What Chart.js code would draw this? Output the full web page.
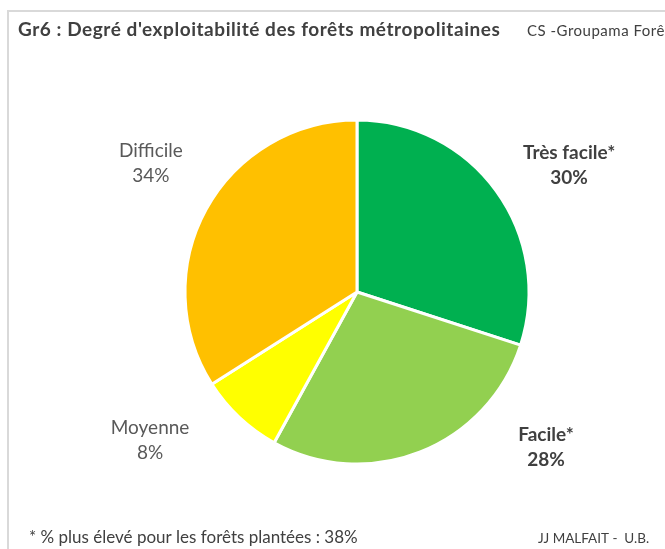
<!DOCTYPE html>
<html>
<head>
<meta charset="utf-8">
<script src="https://cdn.jsdelivr.net/npm/chart.js@4"></script>
<style>
  html, body { margin: 0; padding: 0; background: #ffffff; }
  #wrap { position: relative; width: 665px; height: 549px; overflow: hidden; }
  canvas { display: block; }
</style>
</head>
<body>
<div id="wrap"><canvas id="c" width="665" height="549"></canvas></div>
<script>
// ---- Data ----
const categories = ['Très facile*', 'Facile*', 'Moyenne', 'Difficile'];
const values = [30, 28, 8, 34];
const valueLabels = ['30%', '28%', '8%', '34%'];
const titleText = "Gr6 : Degré d'exploitabilité des forêts métropolitaines";
const sourceText = 'CS -Groupama Forêt';
const footnoteText = '* % plus élevé pour les forêts plantées : 38%';
const authorText = 'JJ MALFAIT -  U.B.';

// ---- Styles ----
const sliceColors = ['#00B050', '#92D050', '#FFFF00', '#FFC000'];
const FONT = 'Lato, "Liberation Sans", sans-serif';
// label offsets relative to pie centre, in units of the pie radius
const labelOffsets = [[1.233, -0.738], [1.099, 0.901], [-1.203, 0.860], [-1.198, -0.750]];
const labelBold = [true, true, false, false];

function drawText(ctx, text, x, y, font, spacing) {
  ctx.font = font;
  if ('letterSpacing' in ctx) ctx.letterSpacing = (spacing || 0) + 'px';
  ctx.fillText(text, x, y);
  if ('letterSpacing' in ctx) ctx.letterSpacing = '0px';
}

const framePlugin = {
  id: 'frame',
  beforeDraw(chart) {
    const ctx = chart.ctx;
    ctx.save();
    ctx.fillStyle = '#ffffff';
    ctx.fillRect(0, 0, chart.width, chart.height);
    ctx.strokeStyle = '#d9d9d9';
    ctx.lineWidth = 2;
    ctx.strokeRect(8, 11, chart.width + 20, chart.height + 20);
    ctx.restore();
  },
  afterDraw(chart) {
    const ctx = chart.ctx;
    ctx.save();
    ctx.textBaseline = 'middle';
    ctx.textAlign = 'left';
    ctx.fillStyle = '#404040';
    drawText(ctx, titleText, 18, 30, 'bold 19px ' + FONT, 0.55);
    drawText(ctx, sourceText, 527, 31, '15px ' + FONT, 0.5);
    drawText(ctx, footnoteText, 29, 538, '17px ' + FONT, 0);
    drawText(ctx, authorText, 538, 539, '13.5px ' + FONT, 0);
    ctx.restore();
  }
};

const labelPlugin = {
  id: 'sliceLabels',
  afterDatasetsDraw(chart) {
    const ctx = chart.ctx;
    const meta = chart.getDatasetMeta(0);
    ctx.save();
    ctx.textAlign = 'center';
    ctx.textBaseline = 'middle';
    meta.data.forEach((arc, i) => {
      const r = arc.outerRadius;
      const x = arc.x + labelOffsets[i][0] * r;
      const y = arc.y + labelOffsets[i][1] * r;
      ctx.font = (labelBold[i] ? 'bold ' : '') + '19px ' + FONT;
      ctx.fillStyle = labelBold[i] ? '#404040' : '#595959';
      ctx.fillText(categories[i], x, y - 12.5);
      ctx.fillText(valueLabels[i], x, y + 12.5);
    });
    ctx.restore();
  }
};

new Chart(document.getElementById('c'), {
  type: 'pie',
  data: {
    labels: categories,
    datasets: [{
      data: values,
      backgroundColor: sliceColors,
      borderColor: '#ffffff',
      borderWidth: 3
    }]
  },
  options: {
    responsive: false,
    animation: false,
    layout: { padding: { left: 182.5, top: 118.5, right: 133.5, bottom: 83.5 } },
    plugins: {
      legend: { display: false },
      tooltip: { enabled: false },
      title: { display: false }
    }
  },
  plugins: [framePlugin, labelPlugin]
});
</script>
</body>
</html>
